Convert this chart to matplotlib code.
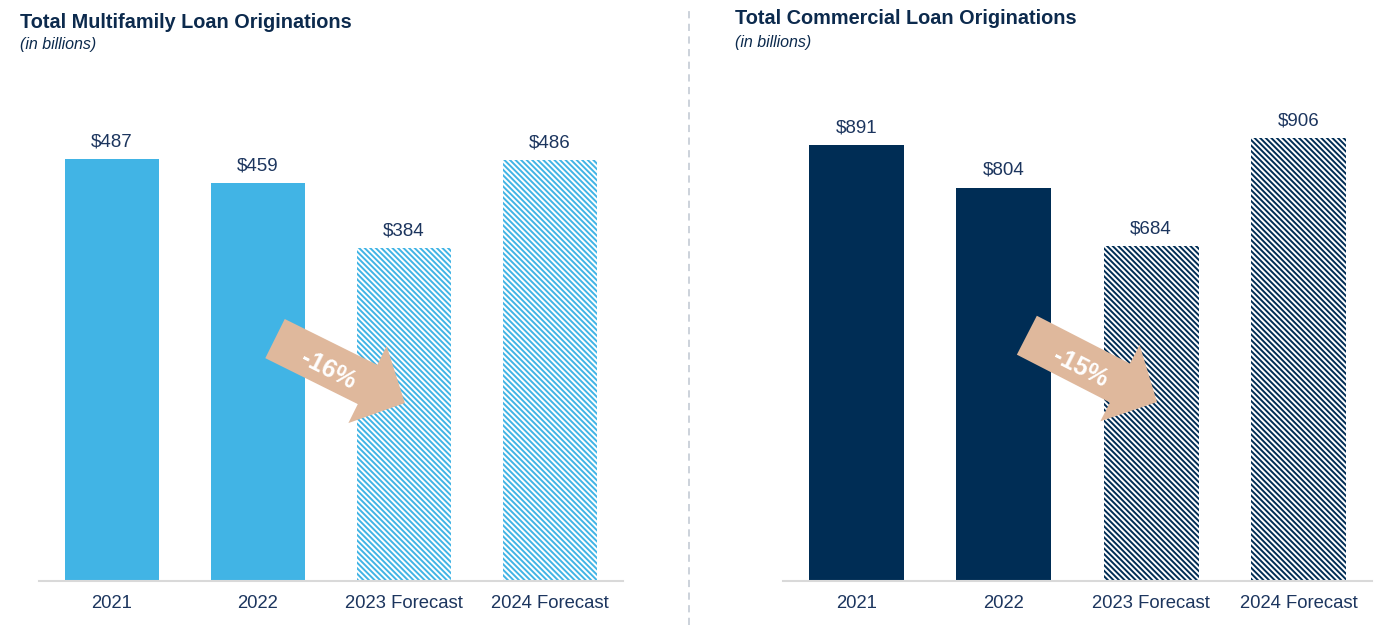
import matplotlib
matplotlib.use("Agg")
import matplotlib.pyplot as plt

plt.rcParams["font.family"] = ["Liberation Sans", "DejaVu Sans"]
plt.rcParams["hatch.linewidth"] = 1.4

categories = ["2021", "2022", "2023 Forecast", "2024 Forecast"]
is_forecast = [False, False, True, True]
mf_values = [487, 459, 384, 486]
cm_values = [891, 804, 684, 906]
mf_change = "-16%"
cm_change = "-15%"

NAVY_TXT = "#1c355e"
TITLE_C = "#0c2a4d"
ARROW_C = "#dfb89c"

W, H = 1377, 625
fig = plt.figure(figsize=(W / 100, H / 100), dpi=100)


def panel(left_px, width_px, values, color, ymax, title, title_x, title_y,
          change, tail, tip, txt_pos):
    ax = fig.add_axes([left_px / W, (H - 581) / H, width_px / W, 481 / H])
    x = range(len(values))
    for i, (v, fc) in enumerate(zip(values, is_forecast)):
        if fc:
            ax.bar(i, v, 0.645, facecolor="white", edgecolor=color,
                   linewidth=0, hatch="\\" * 6)
        else:
            ax.bar(i, v, 0.645, color=color, linewidth=0)
        ax.text(i, v + ymax * 0.018, f"${v}", ha="center", va="bottom",
                fontsize=13.5, color=NAVY_TXT)
    ax.set_xlim(-0.5, 3.5)
    ax.set_ylim(0, ymax)
    ax.set_xticks(list(x))
    ax.set_xticklabels(categories, fontsize=13.3, color=NAVY_TXT)
    ax.tick_params(axis="x", length=0, pad=10)
    ax.set_yticks([])
    for s in ("top", "left", "right"):
        ax.spines[s].set_visible(False)
    ax.spines["bottom"].set_color("#d9d9d9")
    ax.spines["bottom"].set_linewidth(1.5)

    # percent-change arrow
    ax.annotate("", xy=tip, xytext=tail, xycoords="axes fraction",
                textcoords="axes fraction",
                arrowprops=dict(arrowstyle="simple,tail_width=31.5,head_width=62,head_length=30",
                                mutation_scale=1, fc=ARROW_C, ec="none",
                                shrinkA=0, shrinkB=0), zorder=5)
    ax.text(txt_pos[0], txt_pos[1], change, transform=ax.transAxes,
            ha="center", va="center", rotation=-27, fontsize=18,
            fontweight="bold", color="white", zorder=6)

    fig.text(title_x / W, 1 - title_y / H, title, fontsize=14.3,
             fontweight="bold", color=TITLE_C, va="center", ha="left")
    fig.text(title_x / W, 1 - (title_y + 23) / H, "(in billions)", fontsize=11.5,
             style="italic", color=TITLE_C, va="center", ha="left")
    return ax


panel(39, 583.5, mf_values, "#41b4e5", 555,
      "Total Multifamily Loan Originations", 20, 22,
      mf_change, (0.4045, 0.504), (0.627, 0.370), (0.495, 0.439))
panel(783, 589, cm_values, "#002d55", 983,
      "Total Commercial Loan Originations", 735, 19,
      cm_change, (0.414, 0.511), (0.635, 0.372), (0.504, 0.443))

# dashed separator
fig.add_artist(plt.Line2D([689 / W, 689 / W], [0, 1 - 8 / H],
                          transform=fig.transFigure, color="#c8cfd8",
                          lw=1.3, ls=(0, (4, 3))))

fig.savefig("out.png", dpi=100)
